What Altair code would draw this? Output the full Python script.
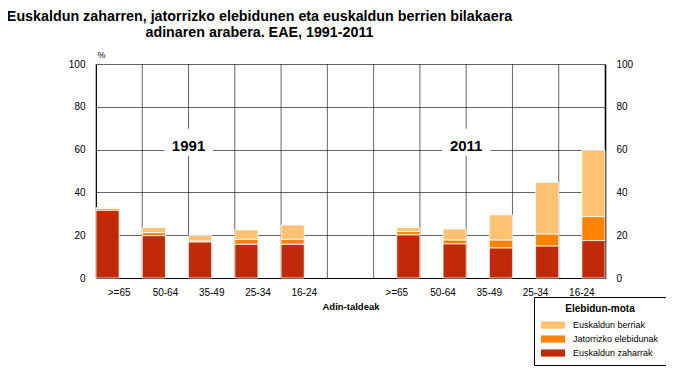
import altair as alt
import pandas as pd

# ---- data ----
ages = [">=65", "50-64", "35-49", "25-34", "16-24"]
years = ["1991", "2011"]
groups = ["Euskaldun berriak", "Jatorrizko elebidunak", "Euskaldun zaharrak"]
colors = ["#FFC272", "#FF8200", "#C02A08"]

zaharrak_1991 = [31.7, 19.8, 16.9, 15.8, 15.8]
jatorrizko_1991 = [0.8, 1.4, 0.4, 2.3, 2.3]
berriak_1991 = [0.4, 2.4, 2.5, 4.4, 6.7]

zaharrak_2011 = [20.2, 16.0, 14.1, 15.0, 17.5]
jatorrizko_2011 = [1.5, 1.8, 3.7, 5.6, 11.2]
berriak_2011 = [1.9, 5.1, 11.7, 24.1, 31.0]

yticks = [0, 20, 40, 60, 80, 100]

title_lines = [
    "Euskaldun zaharren, jatorrizko elebidunen eta euskaldun berrien bilakaera",
    "adinaren arabera. EAE, 1991-2011",
]

# ---- build tables ----
keys = [f"1991|{a}" for a in ages] + ["|"] + [f"2011|{a}" for a in ages]
series = {
    "1991": [zaharrak_1991, jatorrizko_1991, berriak_1991],
    "2011": [zaharrak_2011, jatorrizko_2011, berriak_2011],
}
slots = {"1991": "L", "2011": "R"}
stack_groups = ["Euskaldun zaharrak", "Jatorrizko elebidunak", "Euskaldun berriak"]

rows = []
for yr in years:
    for i, a in enumerate(ages):
        for k, g in enumerate(stack_groups):
            rows.append({"key": f"{yr}|{a}", "slot": slots[yr], "group": g,
                         "ord": k, "v": series[yr][k][i]})
bars_df = pd.DataFrame(rows)
grid_df = pd.DataFrame({"key": keys})
year_df = pd.DataFrame({"key": [f"{y}|35-49" for y in years], "label": years})
ytick_df = pd.DataFrame({"v": yticks})

FONT = "Liberation Sans"
xscale = alt.Scale(domain=keys, paddingInner=0, paddingOuter=0)
yscale = alt.Scale(domain=[0, 100], nice=False, zero=True)

x_axis = alt.Axis(
    labelExpr="split(datum.label, '|')[1]", ticks=False, tickSize=0, labelPadding=9,
    labelFontSize=10, labelAngle=0, domainColor="black", domainWidth=1, grid=False,
    title="Adin-taldeak", titleFontSize=9.5, titleFontWeight="bold", titlePadding=4,
)
y_axis_left = alt.Axis(
    values=yticks, grid=True, gridColor="#222222", gridWidth=0.7, ticks=False, tickSize=0,
    domain=True, domainColor="black", domainWidth=1, labelPadding=11, labelFontSize=10,
    title="%", titleAngle=0, titleX=1, titleY=-7, titleAlign="left",
    titleBaseline="alphabetic", titleFontSize=9, titleFontWeight="normal",
)
y_axis_right = alt.Axis(
    orient="right", values=yticks, grid=False, ticks=False, tickSize=0, domain=True,
    domainColor="black", domainWidth=1.6, labelPadding=11, labelFontSize=10, title=None,
)

rules = alt.Chart(grid_df).mark_rule(color="#222222", strokeWidth=0.7).encode(
    x=alt.X("key:N", bandPosition=0, scale=xscale, axis=x_axis, sort=keys)
)

box_path = "M-1,-0.551L1,-0.551L1,0.551L-1,0.551Z"
boxes = alt.Chart(year_df).mark_point(
    shape=box_path, filled=True, color="white", opacity=1, size=2401, strokeWidth=0
).encode(
    x=alt.X("key:N", bandPosition=0, scale=xscale, axis=x_axis, sort=keys),
    y=alt.datum(63.4, scale=yscale, axis=None),
)

texts = alt.Chart(year_df).mark_text(
    font=FONT, fontSize=15, fontWeight="bold", color="black", baseline="alphabetic", align="center"
).encode(
    x=alt.X("key:N", bandPosition=0, scale=xscale, axis=x_axis, sort=keys),
    y=alt.datum(59.5, scale=yscale, axis=None),
    text="label:N",
)

legend_path = "M-2,-0.6L2,-0.6L2,0.6L-2,0.6Z"
bars = alt.Chart(bars_df).mark_bar(stroke="white", strokeWidth=0.8).encode(
    x=alt.X("key:N", scale=xscale, axis=x_axis, sort=keys),
    xOffset=alt.XOffset("slot:N", scale=alt.Scale(domain=["L", "R"], paddingInner=0, paddingOuter=0)),
    y=alt.Y("v:Q", stack="zero", scale=yscale, axis=y_axis_left),
    color=alt.Color(
        "group:N",
        scale=alt.Scale(domain=groups, range=colors),
        legend=alt.Legend(
            title="Elebidun-mota", orient="none", legendX=438, legendY=233,
            strokeColor="black", fillColor="white", padding=7, cornerRadius=0,
            titleFont=FONT, titleFontSize=10, titleFontWeight="bold", titleColor="black",
            titleAnchor="middle", titleAlign="center", titlePadding=5,
            labelFont=FONT, labelFontSize=9, labelColor="black",
            symbolType=legend_path, symbolSize=144, symbolOffset=6, symbolStrokeWidth=0,
            labelOffset=14, rowPadding=3,
        ),
    ),
    order=alt.Order("ord:Q"),
)

right_axis = alt.Chart(ytick_df).mark_point(opacity=0).encode(
    y=alt.Y("v:Q", scale=yscale, axis=y_axis_right)
)

chart = alt.layer(rules, boxes, texts, bars, right_axis).resolve_axis(
    y="independent"
).properties(
    width=509, height=214,
    padding={"left": 88, "top": 56, "right": 61, "bottom": 89},
    autosize=alt.AutoSizeParams(type="none"),
    title=alt.TitleParams(
        text=title_lines, font=FONT, fontSize=14.3, fontWeight="bold", color="black",
        anchor="middle", frame="group", dx=-91, lineHeight=16, offset=10,
    ),
).configure_view(stroke=None).configure_axis(
    labelFont=FONT, titleFont=FONT, labelColor="black", titleColor="black"
)

chart.save("out.html", embed_options={"renderer": "svg", "actions": False})
